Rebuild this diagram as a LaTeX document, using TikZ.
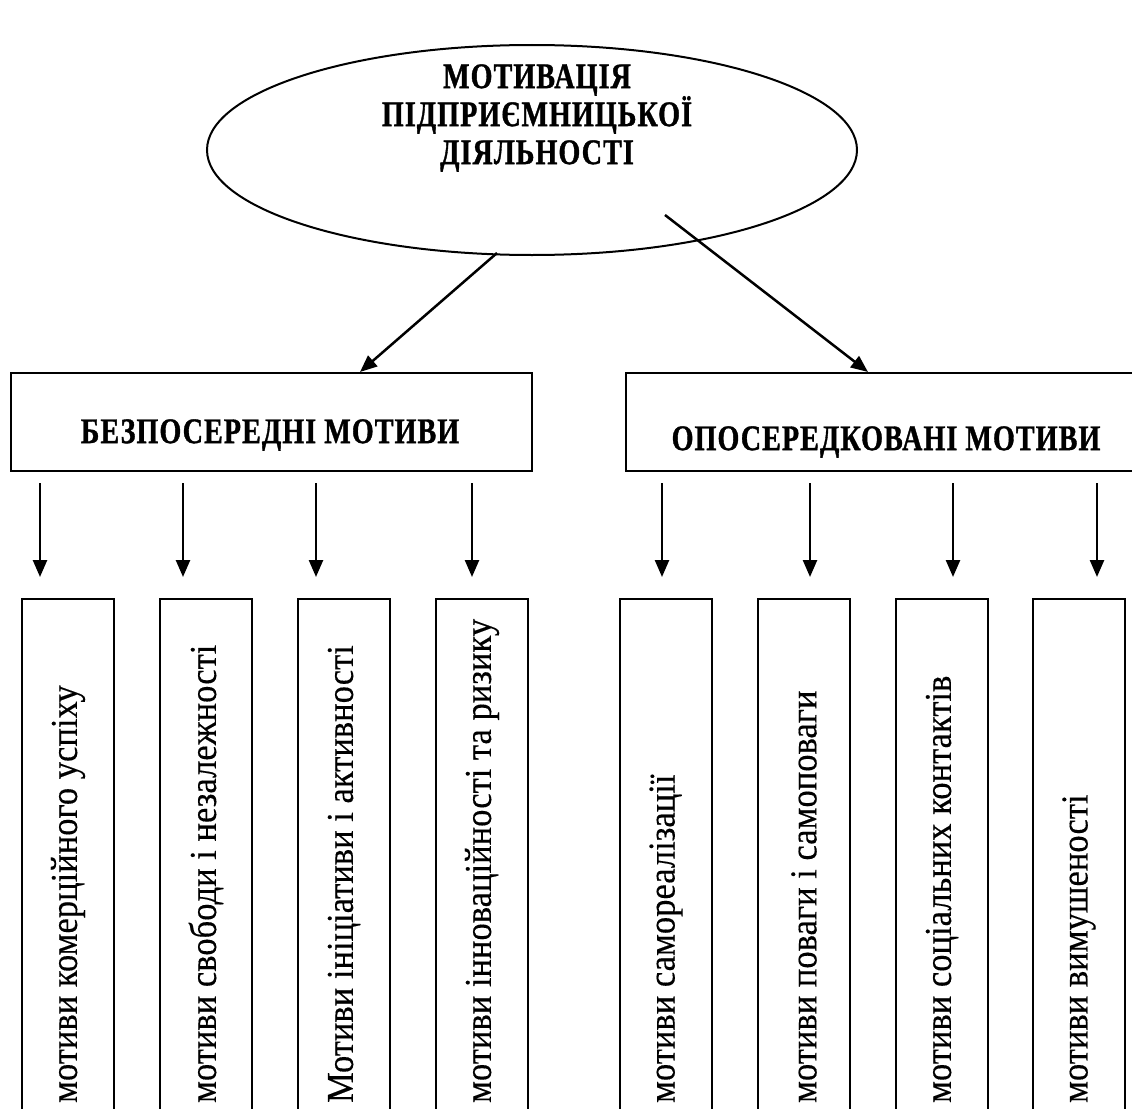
\documentclass[tikz,border=0pt]{standalone}
\usepackage{fontspec}
\setmainfont{Liberation Serif}
\newfontfamily\titlefont[FakeStretch=0.78,FakeBold=1,LetterSpace=3]{Liberation Serif}
\newfontfamily\vfont[FakeStretch=0.91,FakeBold=0.3]{Liberation Serif}
\newcommand\vtext[1]{\makebox[496pt][l]{#1}}
\usetikzlibrary{shapes.geometric,arrows.meta}
\begin{document}
\begin{tikzpicture}[x=1pt,y=-1pt,
  frame/.style={draw,line width=2pt,inner sep=0pt},
  head/.style={font=\titlefont\bfseries\fontsize{36}{38}\selectfont,align=center,inner sep=0pt},
  vbox/.style={draw,line width=1.8pt,rotate=90,anchor=east,minimum height=92pt,
     inner xsep=8pt,font=\vfont\fontsize{38}{42}\selectfont},
  arr/.style={line width=2.5pt,-{Triangle[length=17pt,width=14pt]}}]
\useasboundingbox (0,0) rectangle (1132,1108);
\fill[white] (0,0) rectangle (1132,1108);
% ellipse
\node[frame,ellipse,minimum width=650pt,minimum height=210pt] (m) at (532,150) {};
\node[head] (mt) at (537,118) {МОТИВАЦІЯ\\ПІДПРИЄМНИЦЬКОЇ\\ДІЯЛЬНОСТІ};
% group boxes
\node[frame,anchor=north west,minimum width=521pt,minimum height=98pt] (bl) at (10,372) {};
\node[head] (blt) at (270,435) {БЕЗПОСЕРЕДНІ МОТИВИ};
\node[frame,anchor=north west,minimum width=530pt,minimum height=98pt] (br) at (625,372) {};
\node[head] (brt) at (886,442) {ОПОСЕРЕДКОВАНІ МОТИВИ};
% top arrows
\coordinate (ls) at (497,253);
\coordinate (rs) at (665,215);
\draw[arr] (ls) -- (bl.north -| 360,0);
\draw[arr] (rs) -- (br.north -| 868,0);
% vertical boxes
\node[vbox] (v1) at (68,598) {\vtext{мотиви комерційного успіху}};
\node[vbox] (v2) at (206,598) {\vtext{мотиви свободи і незалежності}};
\node[vbox] (v3) at (344,598) {\vtext{Мотиви ініціативи і активності}};
\node[vbox] (v4) at (482,598) {\vtext{мотиви інноваційності та ризику}};
\node[vbox] (v5) at (666,598) {\vtext{мотиви самореалізації}};
\node[vbox] (v6) at (804,598) {\vtext{мотиви поваги і самоповаги}};
\node[vbox] (v7) at (942,598) {\vtext{мотиви соціальних контактів}};
\node[vbox] (v8) at (1079,598) {\vtext{мотиви вимушеності}};
% down arrows
\foreach \i/\x in {1/40,2/183,3/316,4/472,5/662,6/810,7/953,8/1097}{
  \coordinate (d\i s) at (\x,483);
  \coordinate (d\i e) at (\x,577);
  \draw[arr] (d\i s) -- (d\i e);
}
\end{tikzpicture}
\end{document}
